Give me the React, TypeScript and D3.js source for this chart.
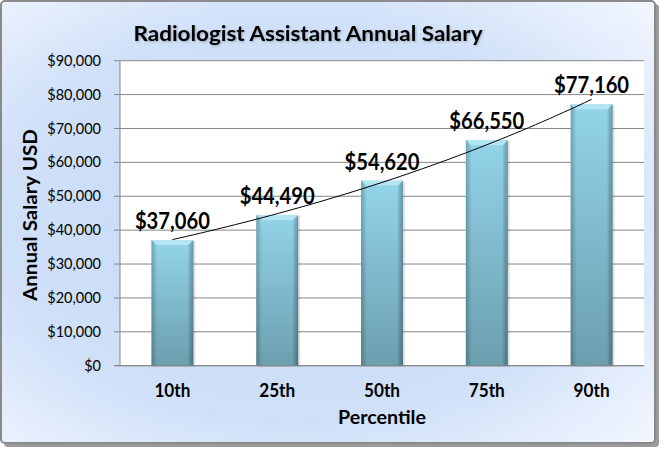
import React from "react";
import * as d3 from "d3";

const categories = ["10th", "25th", "50th", "75th", "90th"];
const salaries = [37060, 44490, 54620, 66550, 77160];
const dataLabels = ["$37,060", "$44,490", "$54,620", "$66,550", "$77,160"];
const yTicks = [0, 10000, 20000, 30000, 40000, 50000, 60000, 70000, 80000, 90000];
const titleText = "Radiologist Assistant Annual Salary";
const xTitle = "Percentile";
const yTitle = "Annual Salary USD";

const W = 661;
const H = 449;
const plot = { left: 120, right: 644, top: 60.7, bottom: 365.7 };
const FONT = "Lato, 'Open Sans', sans-serif";

export default function App() {
  const x = d3
    .scaleBand<string>()
    .domain(categories)
    .range([plot.left, plot.right])
    .paddingInner(0.6)
    .paddingOuter(0.3);
  const y = d3.scaleLinear().domain([0, 90000]).range([plot.bottom, plot.top]);
  const fmt = (v: number) => "$" + d3.format(",")(v);

  // exponential trendline fit (least squares on ln y)
  const n = salaries.length;
  const xs = salaries.map((_, i) => i + 1);
  const ls = salaries.map((v) => Math.log(v));
  const mx = d3.mean(xs) as number;
  const ml = d3.mean(ls) as number;
  const b =
    d3.sum(xs.map((xi, i) => (xi - mx) * (ls[i] - ml))) /
    d3.sum(xs.map((xi) => (xi - mx) * (xi - mx)));
  const a = ml - b * mx;
  const cx = (t: number) =>
    (x(categories[0]) as number) + x.bandwidth() / 2 + (t - 1) * x.step();
  const trendPts = d3.range(0, 61).map((k) => {
    const t = 1 + (k / 60) * (n - 1);
    return [cx(t), y(Math.exp(a + b * t))] as [number, number];
  });
  const trendPath = d3.line()(trendPts) || "";

  const bw = x.bandwidth();

  return (
    <div>
      <style>{`body{margin:0}`}</style>
      <svg width={W} height={H} style={{ display: "block" }}>
        <defs>
          <radialGradient id="bg" cx="45%" cy="50%" r="75%">
            <stop offset="0%" stopColor="#c4d8f6" />
            <stop offset="60%" stopColor="#d0e0f8" />
            <stop offset="100%" stopColor="#f4f8ff" />
          </radialGradient>
          <linearGradient id="barV" x1="0" y1="0" x2="0" y2="1">
            <stop offset="0%" stopColor="#93d4e9" />
            <stop offset="100%" stopColor="#6b9fae" />
          </linearGradient>
          <linearGradient id="barH" x1="0" y1="0" x2="1" y2="0">
            <stop offset="0%" stopColor="#000" stopOpacity="0.18" />
            <stop offset="10%" stopColor="#000" stopOpacity="0" />
            <stop offset="90%" stopColor="#000" stopOpacity="0" />
            <stop offset="100%" stopColor="#000" stopOpacity="0.22" />
          </linearGradient>
          <filter id="tshadow" x="-5%" y="-20%" width="110%" height="150%">
            <feDropShadow dx="1" dy="1" stdDeviation="0.8" floodColor="#000" floodOpacity="0.25" />
          </filter>
        </defs>

        {/* frame shadow + frame */}
        <rect x={4} y={4} width={655} height={443} rx={4} fill="#9a9a9a" />
        <rect x={1} y={1} width={654} height={442} rx={4} fill="url(#bg)" stroke="#8a8a8a" strokeWidth={2} />

        {/* title */}
        <text
          x={308}
          y={41}
          textAnchor="middle"
          fontFamily={FONT}
          fontWeight="bold"
          fontSize={21}
          fill="#000"
          filter="url(#tshadow)"
          textLength={349}
          lengthAdjust="spacingAndGlyphs"
        >
          {titleText}
        </text>

        {/* plot area */}
        <rect x={plot.left} y={plot.top} width={plot.right - plot.left} height={plot.bottom - plot.top} fill="#fff" />

        {yTicks.map((t) => (
          <g key={t}>
            <line x1={plot.left - 6} x2={plot.right} y1={y(t)} y2={y(t)} stroke="#878787" strokeWidth={1} />
            <text
              x={101}
              y={y(t)}
              dy="0.35em"
              textAnchor="end"
              fontFamily={FONT}
              fontSize={14.5}
              fill="#000"
            >
              {fmt(t)}
            </text>
          </g>
        ))}
        <line x1={plot.left} x2={plot.left} y1={plot.top} y2={plot.bottom} stroke="#878787" strokeWidth={1} />

        {/* bars */}
        {categories.map((c, i) => {
          const bx = x(c) as number;
          const by = y(salaries[i]);
          const bh = plot.bottom - by;
          const bev = 5;
          return (
            <g key={c}>
              <rect x={bx + 1} y={by + 1} width={bw + 1} height={bh} fill="#000" opacity={0.12} />
              <rect x={bx} y={by} width={bw} height={bh} fill="url(#barV)" />
              <rect x={bx} y={by} width={bw} height={bh} fill="url(#barH)" />
              <path
                d={`M${bx},${by} L${bx + bw},${by} L${bx + bw - bev},${by + bev} L${bx + bev},${by + bev} Z`}
                fill="#b9e6f4"
                opacity={0.9}
              />
              <path
                d={`M${bx},${by} L${bx + bev},${by + bev} L${bx + bev},${by + bh} L${bx},${by + bh} Z`}
                fill="#000"
                opacity={0.06}
              />
              <path
                d={`M${bx + bw},${by} L${bx + bw - bev},${by + bev} L${bx + bw - bev},${by + bh} L${bx + bw},${by + bh} Z`}
                fill="#000"
                opacity={0.1}
              />
              <text
                x={bx + bw / 2}
                y={by - 11}
                textAnchor="middle"
                fontFamily={FONT}
                fontWeight="bold"
                fontSize={22}
                fill="#000"
                textLength={75}
                lengthAdjust="spacingAndGlyphs"
              >
                {dataLabels[i]}
              </text>
              <text
                x={bx + bw / 2}
                y={391}
                dy="0.35em"
                textAnchor="middle"
                fontFamily={FONT}
                fontWeight="bold"
                fontSize={18}
                fill="#000"
                textLength={36}
                lengthAdjust="spacingAndGlyphs"
              >
                {c}
              </text>
            </g>
          );
        })}

        {/* bottom axis */}
        <line x1={plot.left - 6} x2={plot.right} y1={plot.bottom} y2={plot.bottom} stroke="#878787" strokeWidth={1} />

        {/* trendline */}
        <path d={trendPath} fill="none" stroke="#000" strokeWidth={1} />

        {/* axis titles */}
        <text
          x={382}
          y={417}
          dy="0.35em"
          textAnchor="middle"
          fontFamily={FONT}
          fontWeight="bold"
          fontSize={19}
          fill="#000"
          textLength={88}
          lengthAdjust="spacingAndGlyphs"
        >
          {xTitle}
        </text>
        <text
          transform={`translate(30,215) rotate(-90)`}
          dy="0.35em"
          textAnchor="middle"
          fontFamily={FONT}
          fontWeight="bold"
          fontSize={19}
          fill="#000"
          textLength={172}
          lengthAdjust="spacingAndGlyphs"
        >
          {yTitle}
        </text>
      </svg>
    </div>
  );
}
